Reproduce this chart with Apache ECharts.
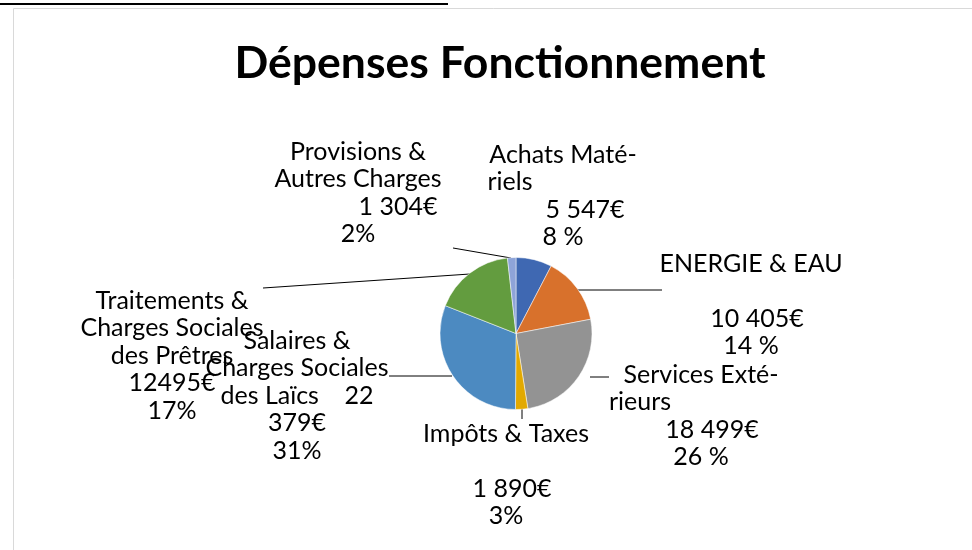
<!DOCTYPE html>
<html><head><meta charset="utf-8">
<script src="https://cdn.jsdelivr.net/npm/echarts@6/dist/echarts.min.js"></script>
<style>html,body{margin:0;padding:0;background:#fff}#c{width:972px;height:550px}</style>
</head><body><div id="c"></div>
<script>
const categories = ["Achats Matériels","ENERGIE & EAU","Services Extérieurs","Impôts & Taxes","Salaires & Charges Sociales des Laïcs","Traitements & Charges Sociales des Prêtres","Provisions & Autres Charges"];
const values = [5547, 10405, 18499, 1890, 22379, 12495, 1304];
const colors = ["#3F68B2","#D8712C","#939393","#E2A900","#4C8AC1","#639C3F","#8EA4D8"];
const labelTexts = [
  "Achats Maté-\n{m53|riels}\n{p22|5 547€}\n8 %",
  "ENERGIE & EAU\n\n{p8|10 405€}\n14 %",
  "Services Exté-\n{m61|rieurs}\n{p11|18 499€}\n26 %",
  "Impôts & Taxes\n\n{p8|1 890€}\n3%",
  "Salaires &\nCharges Sociales\ndes Laïcs    22\n379€\n31%",
  "Traitements &\nCharges Sociales\ndes Prêtres\n12495€\n17%",
  "Provisions &\nAutres Charges\n{p40|1 304€}\n2%"
];
// label placement (block center x, block top y) and leader lines
const labelPos = [[563,141],[751,250],[701,361],[506,420],[297,327],[172,287],[358,138]];
const leaders = [null, [[577,290],[662,290]], [[590,377],[609,377]], [[522,409],[522,419]], [[452,376],[389,376]], [[470,274],[263,288]], [[511,258],[453,248]]];

const chart = echarts.init(document.getElementById('c'));
const FS = 25, LH = 27.5;
const base = {fontFamily:'Lato', fontSize:FS, lineHeight:LH, color:'#000'};
chart.setOption({
  animation:false,
  title:{text:'Dépenses Fonctionnement', left:495, top:36, textAlign:'center',
    textStyle:{fontFamily:'Lato', fontWeight:'bold', fontSize:44.5, color:'#000'}},
  graphic:[
    {type:'rect', shape:{x:13.5,y:8.5,width:1000,height:600}, style:{fill:'none', stroke:'#d9d9d9', lineWidth:1}},
    {type:'line', shape:{x1:0,y1:4,x2:448,y2:4}, style:{stroke:'#000', lineWidth:2}}
  ],
  series:[{
    type:'pie', center:[516,333.5], radius:[0,76], startAngle:90, clockwise:true,
    data: categories.map((n,i)=>({name:n, value:values[i], itemStyle:{color:colors[i]}})),
    itemStyle:{borderColor:'#fff', borderWidth:0.5},
    label:{show:true, formatter:(p)=>labelTexts[p.dataIndex], ...base, align:'center',
      rich:{
        m53:{...base, padding:[0,106,0,0]},
        m61:{...base, padding:[0,122,0,0]},
        p22:{...base, padding:[0,0,0,44]},
        p11:{...base, padding:[0,0,0,22]},
        p8:{...base, padding:[0,0,0,12]},
        p40:{...base, padding:[0,0,0,80]}
      }},
    labelLine:{show:true, lineStyle:{color:'#000', width:1}},
    labelLayout:(p)=>{
      const i = p.dataIndex;
      const r = {x:labelPos[i][0], y:labelPos[i][1], align:'center', verticalAlign:'top'};
      if (leaders[i]) { const l = leaders[i]; r.labelLinePoints = [l[0], l[1], l[1]]; }
      else r.labelLinePoints = [[0,0],[0,0],[0,0]];
      return r;
    }
  }]
});
</script></body></html>
